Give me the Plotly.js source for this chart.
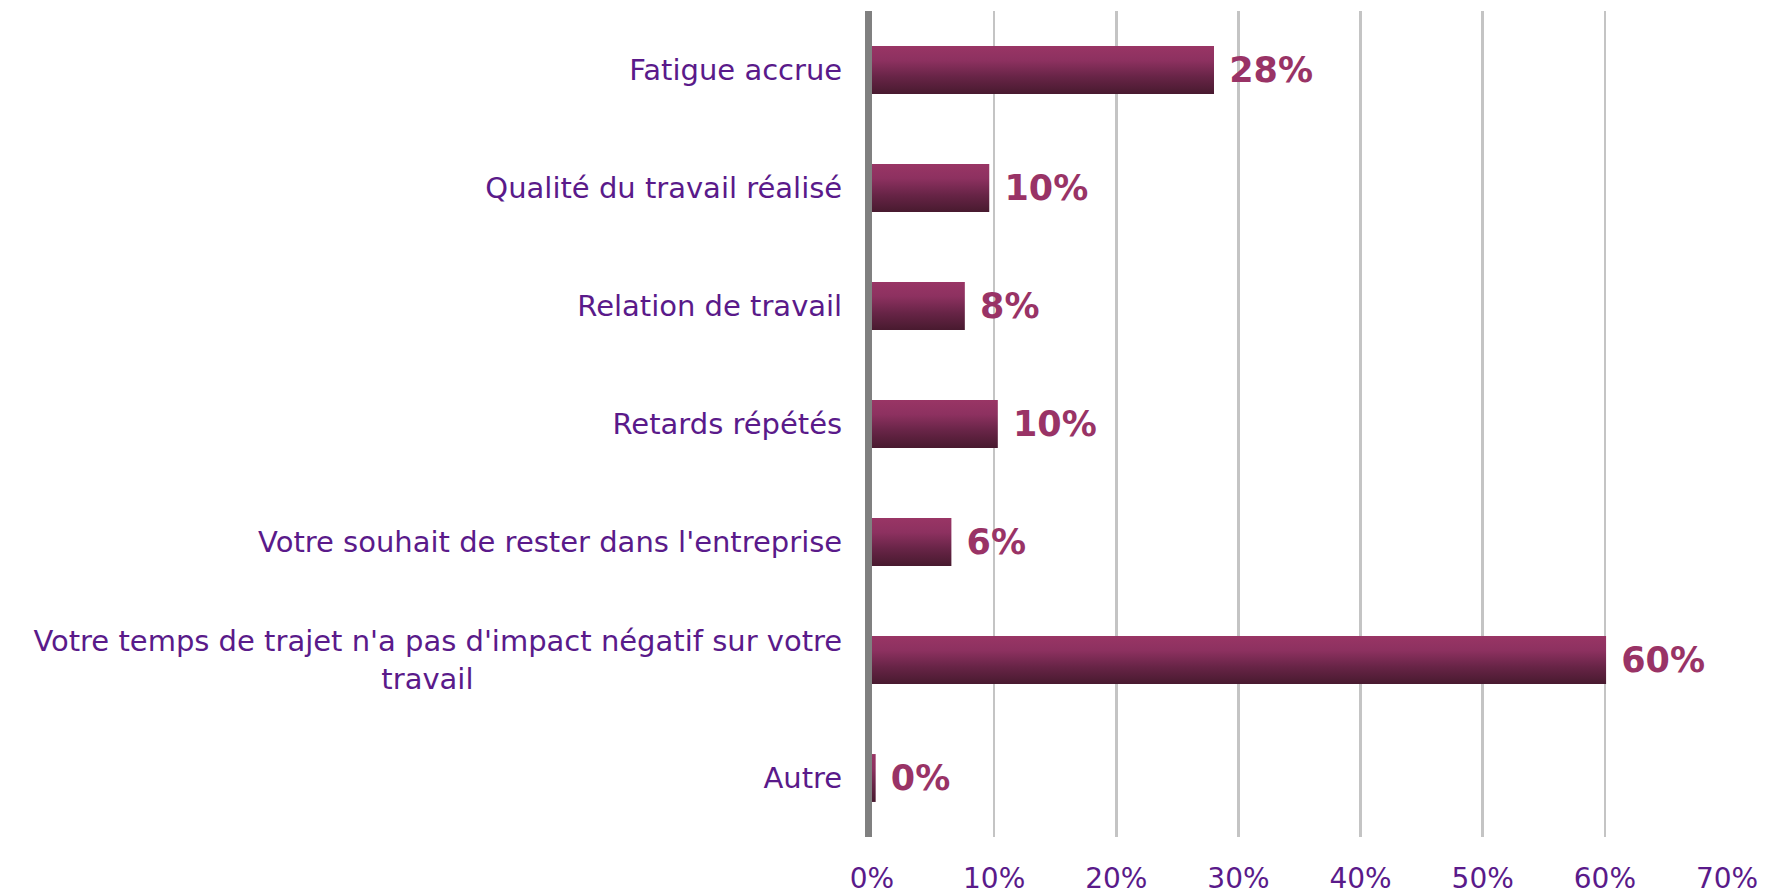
<!DOCTYPE html>
<html>
<head>
<meta charset="utf-8">
<script src="https://cdn.plot.ly/plotly-3.0.1.min.js"></script>
<style>
  html, body { margin: 0; padding: 0; background: #ffffff; }
  #chart { width: 1768px; height: 894px; }
</style>
</head>
<body>
<div id="chart"></div>
<script>
// Categories (top to bottom)
const categories = [
  "Fatigue accrue",
  "Qualité du travail réalisé",
  "Relation de travail",
  "Retards répétés",
  "Votre souhait de rester dans l'entreprise",
  "Votre temps de trajet n'a pas d'impact négatif sur votre travail",
  "Autre"
];
// Values in percent
const values = [28.0, 9.6, 7.6, 10.3, 6.5, 60.1, 0.3];
// Data labels as printed on the chart
const valueLabels = ["28%", "10%", "8%", "10%", "6%", "60%", "0%"];
// Displayed category labels
const categoryLabels = [
  "Fatigue accrue",
  "Qualité du travail réalisé",
  "Relation de travail",
  "Retards répétés",
  "Votre souhait de rester dans l'entreprise",
  "Votre temps de trajet n'a pas d'impact négatif sur votre<br>travail" + "\u00a0".repeat(40),
  "Autre"
];
// x ticks
const xTickVals = [0, 10, 20, 30, 40, 50, 60, 70];
const xTickText = ["0%", "10%", "20%", "30%", "40%", "50%", "60%", "70%"];

const labelPurple = "#5a1a8a";
const valueColor = "#993366";

const trace = {
  type: "bar",
  orientation: "h",
  y: categories,
  x: values,
  text: valueLabels,
  marker: { color: "#8a2e5c", line: { width: 0 } },
  texttemplate: "\u00a0%{text}",
  textposition: "outside",
  constraintext: "none",
  cliponaxis: false,
  textfont: { family: "DejaVu Sans", size: 35, color: valueColor, weight: "bold" },
  hoverinfo: "skip"
};

const layout = {
  width: 1768,
  height: 894,
  margin: { l: 872, r: 41, t: 11, b: 57, pad: 0 },
  paper_bgcolor: "#ffffff",
  plot_bgcolor: "#ffffff",
  showlegend: false,
  bargap: 0.594,
  font: { family: "DejaVu Sans", color: labelPurple },
  xaxis: {
    range: [0, 70],
    tickvals: xTickVals,
    ticktext: xTickText,
    showgrid: true,
    gridcolor: "#c4c4c4",
    gridwidth: 2.5,
    zeroline: false,
    showline: false,
    ticks: "",
    ticklabelstandoff: 22,
    tickfont: { family: "DejaVu Sans", size: 28, color: labelPurple },
    fixedrange: true
  },
  yaxis: {
    type: "category",
    autorange: "reversed",
    tickvals: categories,
    ticktext: categoryLabels,
    showgrid: false,
    zeroline: false,
    showline: true,
    linecolor: "#808080",
    linewidth: 7,
    layer: "above traces",
    ticks: "",
    ticklabelstandoff: 17,
    tickfont: { family: "DejaVu Sans", size: 29, color: labelPurple },
    fixedrange: true
  }
};

Plotly.newPlot("chart", [trace], layout, { displayModeBar: false, staticPlot: true }).then(function (gd) {
  const svg = gd.querySelector("svg.main-svg");
  const ns = "http://www.w3.org/2000/svg";
  let defs = svg.querySelector("defs");
  if (!defs) { defs = document.createElementNS(ns, "defs"); svg.insertBefore(defs, svg.firstChild); }
  const grad = document.createElementNS(ns, "linearGradient");
  grad.setAttribute("id", "barGrad");
  grad.setAttribute("x1", "0"); grad.setAttribute("y1", "0");
  grad.setAttribute("x2", "0"); grad.setAttribute("y2", "1");
  [["0", "#993565"], ["0.3", "#8d3160"], ["0.65", "#672446"], ["1", "#481a2f"]].forEach(function (s) {
    const stop = document.createElementNS(ns, "stop");
    stop.setAttribute("offset", s[0]);
    stop.setAttribute("stop-color", s[1]);
    grad.appendChild(stop);
  });
  defs.appendChild(grad);
  gd.querySelectorAll(".bars .point path").forEach(function (p) {
    p.style.fill = "url(#barGrad)";
  });
});
</script>
</body>
</html>
